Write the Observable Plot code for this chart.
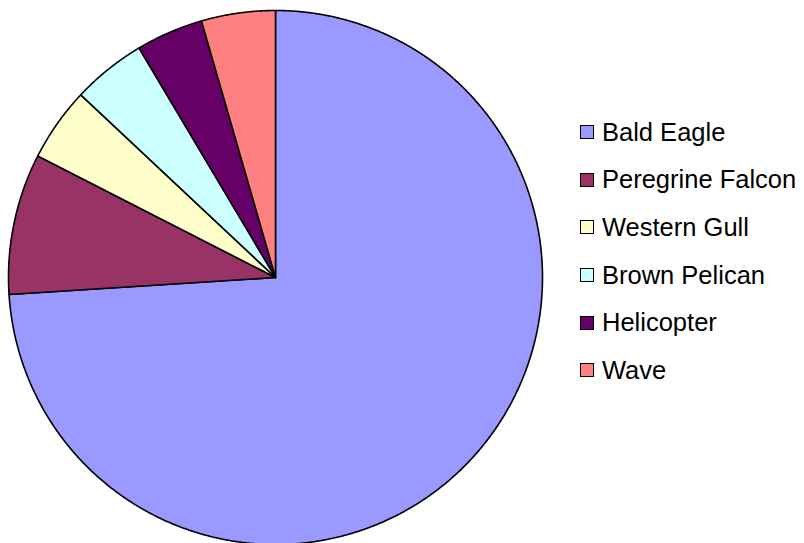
<!DOCTYPE html>
<html>
<head>
<meta charset="utf-8">
<script src="https://cdn.jsdelivr.net/npm/d3@7"></script>
<script src="https://cdn.jsdelivr.net/npm/@observablehq/plot@0.6"></script>
<style>
  html, body { margin: 0; padding: 0; background: #fff; }
  #chart { position: relative; width: 804px; height: 543px; overflow: hidden; }
  #chart svg { position: absolute; left: 0; top: 0; }
  #legend { position: absolute; left: 580px; top: 108.5px; font-family: "Liberation Sans", Arial, sans-serif; font-size: 25.5px; color: #000; }
  .row { height: 47.6px; display: flex; align-items: center; white-space: nowrap; }
  .sw { width: 12px; height: 12px; border: 1.5px solid #000; margin-right: 8px; flex: none; }
</style>
</head>
<body>
<div id="chart"></div>
<script>
const names = ["Bald Eagle", "Peregrine Falcon", "Western Gull", "Brown Pelican", "Helicopter", "Wave"];
const counts = [182, 21, 11, 11, 10, 11];
const colors = ["#9999FF", "#993366", "#FFFFCC", "#CCFFFF", "#660066", "#FF8080"];

// slice outlines (unit circle, clockwise from 12 o'clock)
const total = d3.sum(counts);
const pts = [];
let acc = 0;
names.forEach((name, i) => {
  const a0 = acc / total * 2 * Math.PI;
  acc += counts[i];
  const a1 = acc / total * 2 * Math.PI;
  const n = Math.max(8, Math.ceil((a1 - a0) / (Math.PI / 720)));
  pts.push({name, x: 0, y: 0});
  for (let k = 0; k <= n; k++) {
    const a = a0 + (a1 - a0) * k / n;
    pts.push({name, x: Math.sin(a), y: Math.cos(a)});
  }
  pts.push({name, x: 0, y: 0});
});

const plot = Plot.plot({
  width: 804,
  height: 543,
  margin: 0,
  style: {background: "transparent", overflow: "visible"},
  x: {domain: [-1, 1], range: [8, 542], axis: null},
  y: {domain: [-1, 1], range: [544, 10], axis: null},
  color: {domain: names, range: colors},
  marks: [
    Plot.line(pts, {x: "x", y: "y", z: "name", fill: "name", stroke: "#000", strokeWidth: 1.6, strokeLinejoin: "round", curve: "linear"})
  ]
});

const chart = document.getElementById("chart");
chart.appendChild(plot);

const color = plot.scale("color");
const colorFn = d3.scaleOrdinal(color.domain, color.range);
const legend = d3.select(chart).append("div").attr("id", "legend");
const rows = legend.selectAll("div.row").data(names).join("div").attr("class", "row");
rows.append("div").attr("class", "sw").style("background", d => colorFn(d));
rows.append("span").text(d => d);
</script>
</body>
</html>
